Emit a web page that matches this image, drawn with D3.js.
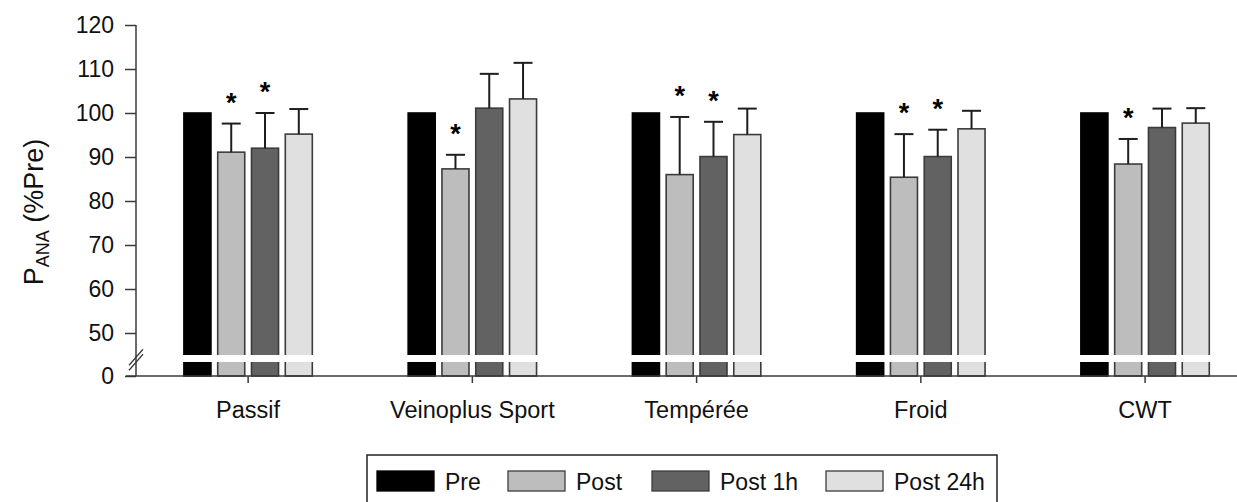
<!DOCTYPE html>
<html>
<head>
<meta charset="utf-8">
<script src="https://cdn.jsdelivr.net/npm/d3@7/dist/d3.min.js"></script>
<style>
  html, body { margin: 0; padding: 0; background: #fff; }
  svg { display: block; font-family: "Liberation Sans", Arial, sans-serif; }
</style>
</head>
<body>
<svg id="chart" width="1237" height="502"></svg>
<script>
// ---- data ----
const categories = ["Passif", "Veinoplus Sport", "Tempérée", "Froid", "CWT"];
const seriesNames = ["Pre", "Post", "Post 1h", "Post 24h"];
const preValues    = [100, 100, 100, 100, 100];
const postValues   = [91.1, 87.3, 86.0, 85.4, 88.4];
const post1hValues = [92.0, 101.1, 90.1, 90.1, 96.7];
const post24hValues= [95.2, 103.2, 95.1, 96.4, 97.7];
const preErr    = [0, 0, 0, 0, 0];
const postErr   = [6.5, 3.2, 13.1, 9.8, 5.7];
const post1hErr = [8.0, 7.8, 7.9, 6.1, 4.3];
const post24hErr= [5.7, 8.2, 5.9, 4.1, 3.4];
const preSig    = [0, 0, 0, 0, 0];
const postSig   = [1, 1, 1, 1, 1];
const post1hSig = [1, 0, 1, 1, 0];
const post24hSig= [0, 0, 0, 0, 0];
const yTickValues = [0, 50, 60, 70, 80, 90, 100, 110, 120];

const seriesColors = ["#000000", "#bdbdbd", "#626262", "#e0e0e0"];
const valuesBySeries = [preValues, postValues, post1hValues, post24hValues];
const errBySeries = [preErr, postErr, post1hErr, post24hErr];
const sigBySeries = [preSig, postSig, post1hSig, post24hSig];

// ---- layout ----
const svg = d3.select("#chart");
const axisX = 136;
const axisY = 376;

const y = d3.scaleLinear()
  .domain([0, 3.2, 45, 120])
  .range([axisY, 362, 355, 25]);

const x0 = d3.scaleBand().domain(categories).range([axisX, 1257.2]).padding(0);
const x1 = d3.scaleBand().domain(seriesNames).range([0, 128.4]).paddingInner(0.2).paddingOuter(0);
const groupOffset = (x0.bandwidth() - 128.4) / 2;

const rows = [];
categories.forEach((c, ci) => {
  seriesNames.forEach((s, si) => {
    rows.push({cat: c, ser: s, si: si,
      v: valuesBySeries[si][ci], e: errBySeries[si][ci], sig: sigBySeries[si][ci]});
  });
});

const g = svg.append("g");
const barX = d => x0(d.cat) + groupOffset + x1(d.ser);

// bars
g.selectAll("rect.bar").data(rows).enter().append("rect")
  .attr("class", "bar")
  .attr("x", barX)
  .attr("y", d => y(d.v))
  .attr("width", x1.bandwidth())
  .attr("height", d => y(0) - y(d.v))
  .attr("fill", d => seriesColors[d.si])
  .attr("stroke", d => d.si === 0 ? "#000" : "#3c3c3c")
  .attr("stroke-width", 1.6);

// error bars (upper only)
const errRows = rows.filter(d => d.e > 0);
g.selectAll("line.err").data(errRows).enter().append("line")
  .attr("x1", d => barX(d) + x1.bandwidth() / 2)
  .attr("x2", d => barX(d) + x1.bandwidth() / 2)
  .attr("y1", d => y(d.v))
  .attr("y2", d => y(d.v + d.e))
  .attr("stroke", "#1e1e1e").attr("stroke-width", 2);
g.selectAll("line.cap").data(errRows).enter().append("line")
  .attr("x1", d => barX(d) + x1.bandwidth() / 2 - 9.5)
  .attr("x2", d => barX(d) + x1.bandwidth() / 2 + 9.5)
  .attr("y1", d => y(d.v + d.e))
  .attr("y2", d => y(d.v + d.e))
  .attr("stroke", "#1e1e1e").attr("stroke-width", 2);

// significance asterisks
g.selectAll("text.sig").data(rows.filter(d => d.sig)).enter().append("text")
  .attr("x", d => barX(d) + x1.bandwidth() / 2)
  .attr("y", d => y(d.v + d.e) - 12)
  .attr("text-anchor", "middle")
  .attr("font-size", 27).attr("font-weight", "bold")
  .attr("fill", "#000")
  .text("*");

// axis break: white stripe across bars
categories.forEach(c => {
  g.append("rect")
    .attr("x", x0(c) + groupOffset - 2)
    .attr("y", y(45))
    .attr("width", 128.4 + 4)
    .attr("height", y(3.2) - y(45))
    .attr("fill", "#fff");
});

// y axis
const yAxis = d3.axisLeft(y).tickValues(yTickValues).tickSize(11).tickPadding(11);
const ya = svg.append("g").attr("transform", `translate(${axisX},0)`).call(yAxis);
ya.select(".domain").remove();
ya.selectAll(".tick line").attr("stroke", "#3a3a3a").attr("stroke-width", 1.5);
ya.selectAll(".tick text").attr("font-size", 23).attr("fill", "#111")
  .attr("font-family", "Liberation Sans, Arial, sans-serif");
svg.append("line").attr("x1", axisX).attr("x2", axisX)
  .attr("y1", y(120)).attr("y2", axisY)
  .attr("stroke", "#3a3a3a").attr("stroke-width", 1.5);

// break marks
[0, 5].forEach(off => {
  svg.append("line")
    .attr("x1", axisX - 7).attr("y1", y(2) - off + 3)
    .attr("x2", axisX + 7).attr("y2", y(2) - off - 13)
    .attr("stroke", "#3a3a3a").attr("stroke-width", 1.3);
});

// x axis
const xAxis = d3.axisBottom(x0).tickSize(7).tickPadding(18);
const xa = svg.append("g").attr("transform", `translate(0,${axisY})`).call(xAxis);
xa.select(".domain").remove();
xa.selectAll(".tick line").attr("stroke", "#3a3a3a").attr("stroke-width", 1.5);
xa.selectAll(".tick text").attr("font-size", 23.5).attr("fill", "#111")
  .attr("font-family", "Liberation Sans, Arial, sans-serif");
svg.append("line").attr("x1", 126).attr("x2", 1257)
  .attr("y1", axisY).attr("y2", axisY)
  .attr("stroke", "#3a3a3a").attr("stroke-width", 1.5);

// y label
const yl = svg.append("text")
  .attr("transform", "translate(43,212) rotate(-90)")
  .attr("text-anchor", "middle")
  .attr("font-size", 27).attr("fill", "#111");
yl.append("tspan").text("P");
yl.append("tspan").attr("font-size", 18).attr("dy", 6).text("ANA");
yl.append("tspan").attr("dy", -6).text(" (%Pre)");

// legend
const legend = svg.append("g");
legend.append("rect").attr("x", 367).attr("y", 455).attr("width", 630).attr("height", 60)
  .attr("fill", "none").attr("stroke", "#222").attr("stroke-width", 1.5);
const legendSwatchX = [377, 508, 652, 826];
seriesNames.forEach((s, i) => {
  legend.append("rect").attr("x", legendSwatchX[i]).attr("y", 471)
    .attr("width", 57).attr("height", 20)
    .attr("fill", seriesColors[i])
    .attr("stroke", i === 0 ? "#000" : "#3c3c3c").attr("stroke-width", 1.3);
  legend.append("text").attr("x", legendSwatchX[i] + 68).attr("y", 490)
    .attr("font-size", 23).attr("fill", "#111").text(s);
});
</script>
</body>
</html>
